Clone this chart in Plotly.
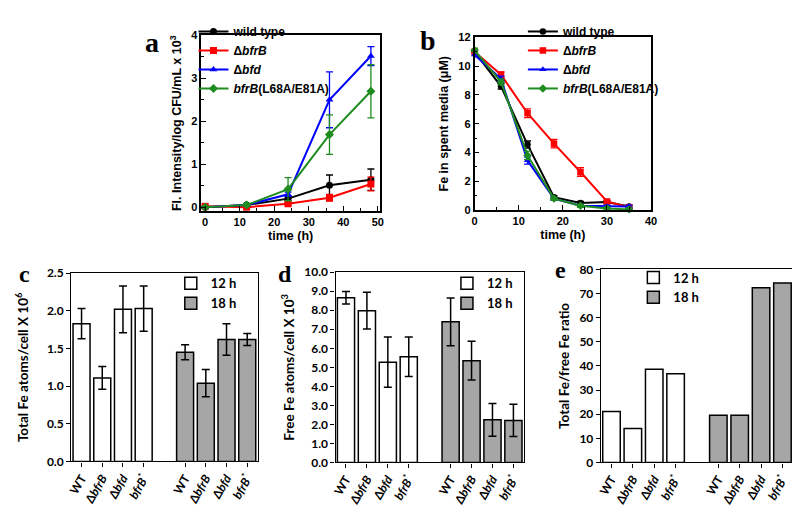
import plotly.graph_objects as go

# ---------------- data ----------------
# Panel a: Fl. intensity vs time
time_a = [0, 12, 24, 36, 48]
a_wt = [0.0, 0.05, 0.20, 0.51, 0.64]
a_wt_err = [0.02, 0.02, 0.05, 0.24, 0.25]
a_dbfrb = [0.02, 0.0, 0.08, 0.22, 0.54]
a_dbfrb_err = [0.02, 0.02, 0.03, 0.08, 0.16]
a_dbfd = [0.0, 0.05, 0.30, 2.50, 3.52]
a_dbfd_err = [0.02, 0.02, 0.05, 0.65, 0.22]
a_mut = [0.0, 0.05, 0.42, 1.69, 2.70]
a_mut_err = [0.02, 0.02, 0.27, 0.46, 0.62]
a_xticks = [0, 10, 20, 30, 40, 50]
a_yticks = [0, 1, 2, 3, 4]

# Panel b: Fe in spent media
time_b = [0, 6, 12, 18, 24, 30, 35]
b_wt = [11.0, 8.6, 4.55, 0.90, 0.50, 0.56, 0.25]
b_wt_err = [0.15, 0.2, 0.25, 0.1, 0.1, 0.1, 0.1]
b_dbfrb = [11.0, 9.4, 6.73, 4.62, 2.65, 0.60, 0.20]
b_dbfrb_err = [0.15, 0.2, 0.3, 0.3, 0.3, 0.1, 0.1]
b_dbfd = [10.8, 9.1, 3.45, 0.80, 0.30, 0.25, 0.25]
b_dbfd_err = [0.15, 0.2, 0.25, 0.1, 0.1, 0.1, 0.1]
b_mut = [11.1, 8.9, 3.80, 0.80, 0.30, 0.12, 0.05]
b_mut_err = [0.15, 0.2, 0.3, 0.1, 0.1, 0.1, 0.1]
b_xticks = [0, 10, 20, 30, 40]
b_yticks = [0, 2, 4, 6, 8, 10, 12]

# Bar panels
strains = ["WT", "Δ<i>bfrB</i>", "Δ<i>bfd</i>", "<i>bfrB</i><sup>*</sup>"]
pos_12h = [0, 1, 2, 3]
pos_18h = [5, 6, 7, 8]

c_12h = [1.83, 1.11, 2.02, 2.03]
c_12h_err = [0.20, 0.15, 0.31, 0.30]
c_18h = [1.45, 1.04, 1.62, 1.62]
c_18h_err = [0.10, 0.18, 0.21, 0.08]
c_yticks = [0.0, 0.5, 1.0, 1.5, 2.0, 2.5]

d_12h = [8.66, 7.98, 5.27, 5.56]
d_12h_err = [0.33, 0.97, 1.32, 1.04]
d_18h = [7.39, 5.35, 2.24, 2.21]
d_18h_err = [1.26, 1.02, 0.86, 0.85]
d_yticks = [0, 1, 2, 3, 4, 5, 6, 7, 8, 9, 10]

e_12h = [21.1, 14.1, 38.6, 36.7]
e_18h = [19.6, 19.6, 72.4, 74.3]
e_yticks = [0, 10, 20, 30, 40, 50, 60, 70, 80]

# ---------------- styles ----------------
ARIAL = "Liberation Sans"
CAL = "Lato"
line_series = [
    ("<b>wild type</b>", "black", "circle"),
    ("<b>Δ<i>bfrB</i></b>", "#ff0000", "square"),
    ("<b>Δ<i>bfd</i></b>", "#0000ff", "triangle-up"),
    ("<b><i>bfrB</i>(L68A/E81A)</b>", "#1e8c1e", "diamond"),
]
W, H = 800, 509


def px_x(p):
    return p / W


def px_y(p):
    return 1 - p / H


def bold(vals, fmt):
    return ["<b>" + format(v, fmt) + "</b>" for v in vals]


fig = go.Figure()

a_data = [(a_wt, a_wt_err), (a_dbfrb, a_dbfrb_err), (a_dbfd, a_dbfd_err), (a_mut, a_mut_err)]
for (name, col, sym), (vals, err) in zip(line_series, a_data):
    fig.add_trace(go.Scatter(
        x=time_a, y=vals, name=name, mode="lines+markers",
        line=dict(color=col, width=2), marker=dict(color=col, symbol=sym, size=7),
        error_y=dict(type="data", array=err, color=col, thickness=1.3, width=3.5),
        xaxis="x", yaxis="y", legend="legend", cliponaxis=False))

b_data = [(b_wt, b_wt_err), (b_dbfrb, b_dbfrb_err), (b_dbfd, b_dbfd_err), (b_mut, b_mut_err)]
for (name, col, sym), (vals, err) in zip(line_series, b_data):
    fig.add_trace(go.Scatter(
        x=time_b, y=vals, name=name, mode="lines+markers",
        line=dict(color=col, width=2), marker=dict(color=col, symbol=sym, size=6.5),
        error_y=dict(type="data", array=err, color=col, thickness=1.3, width=3.5),
        xaxis="x2", yaxis="y2", legend="legend2", cliponaxis=False))

GRAY = "#a6a6a6"
bar_panels = [
    ("x3", "y3", "legend3", c_12h, c_12h_err, c_18h, c_18h_err),
    ("x4", "y4", "legend4", d_12h, d_12h_err, d_18h, d_18h_err),
    ("x5", "y5", "legend5", e_12h, None, e_18h, None),
]
for xa, ya, lg, v12, e12, v18, e18 in bar_panels:
    for label, pos, vals, err, col in [("<b>12 h</b>", pos_12h, v12, e12, "white"),
                                        ("<b>18 h</b>", pos_18h, v18, e18, GRAY)]:
        kw = {}
        if err is not None:
            kw["error_y"] = dict(type="data", array=err, color="black", thickness=1.5, width=4)
        fig.add_trace(go.Bar(
            x=pos, y=vals, name=label, width=0.82,
            marker=dict(color=col, line=dict(color="black", width=1.5)),
            xaxis=xa, yaxis=ya, legend=lg, **kw))

# ---------------- layout ----------------
tickfont_a = dict(family=ARIAL, size=11, color="black")
titlefont_a = dict(family=ARIAL, size=12.5, color="black")
tickfont_c = dict(family=CAL, size=12, color="black")
titlefont_c = dict(family=CAL, size=13.5, color="black")


def line_axis(domain, anchor, rng, tv, minor_dtick, title, standoff=4):
    return dict(domain=domain, anchor=anchor, range=rng, tickvals=tv, ticktext=bold(tv, "d"),
                showgrid=False, zeroline=False, showline=True, linecolor="black",
                linewidth=1.5, mirror=True, ticks="inside", ticklen=5, tickwidth=1.2,
                tickcolor="black", minor=dict(ticks="inside", dtick=minor_dtick, tick0=0,
                                             ticklen=3, tickcolor="black", showgrid=False),
                tickfont=tickfont_a,
                title=dict(text="<b>" + title + "</b>", font=titlefont_a, standoff=standoff))


def bar_xaxis(domain, anchor):
    return dict(domain=domain, anchor=anchor, range=[-0.5, 8.5],
                tickvals=pos_12h + pos_18h,
                ticktext=["<b>" + s + "</b>" for s in strains + strains], tickangle=-60,
                showgrid=False, zeroline=False, showline=True, linecolor="black",
                linewidth=1.2, mirror=True, ticks="outside", ticklen=4, tickcolor="black",
                tickfont=tickfont_c)


def bar_yaxis(domain, anchor, rng, tv, fmt, title, standoff=6):
    return dict(domain=domain, anchor=anchor, range=rng, tickvals=tv, ticktext=bold(tv, fmt),
                showgrid=False, zeroline=False, showline=True, linecolor="black",
                linewidth=1.2, mirror=True, ticks="outside", ticklen=4, tickcolor="black",
                tickfont=tickfont_c,
                title=dict(text="<b>" + title + "</b>", font=titlefont_c, standoff=standoff))


def legend_box(x, y, size, family):
    return dict(x=px_x(x), y=px_y(y), xanchor="left", yanchor="top", bgcolor="rgba(0,0,0,0)",
                font=dict(family=family, size=size, color="black"), tracegroupgap=0,
                itemclick=False)


fig.update_layout(
    width=W, height=H, margin=dict(l=0, r=0, t=0, b=0),
    paper_bgcolor="white", plot_bgcolor="white", barmode="overlay",
    xaxis=line_axis([px_x(191), px_x(372)], "y", [-1.1, 50.6], a_xticks, 5, "time (h)"),
    yaxis=line_axis([px_y(201), px_y(20)], "x", [-0.09, 4], a_yticks, 0.5,
                    "Fl. Intensity/log CFU/mL x 10<sup>3</sup>", standoff=7),
    xaxis2=line_axis([px_x(468), px_x(647)], "y2", [0, 40], b_xticks, 5, "time (h)"),
    yaxis2=line_axis([px_y(200), px_y(22)], "x2", [0, 12], b_yticks, 1,
                     "Fe in spent media (μM)", standoff=7),
    xaxis3=bar_xaxis([px_x(59), px_x(248)], "y3"),
    yaxis3=bar_yaxis([px_y(459), px_y(265)], "x3", [0, 2.5], c_yticks, ".1f",
                     "Total Fe atoms/cell X 10<sup>6</sup>", standoff=15),
    xaxis4=bar_xaxis([px_x(327), px_x(518)], "y4"),
    yaxis4=bar_yaxis([px_y(460), px_y(264)], "x4", [0, 10], d_yticks, ".1f",
                     "Free Fe atoms/cell X 10<sup>3</sup>"),
    xaxis5=bar_xaxis([px_x(596), px_x(791)], "y5"),
    yaxis5=bar_yaxis([px_y(460), px_y(261)], "x5", [0, 80], e_yticks, "d",
                     "Total Fe/free Fe ratio"),
    legend=legend_box(183, 1, 12, ARIAL),
    legend2=legend_box(517, 1, 12, ARIAL),
    legend3=legend_box(160, 260, 13, CAL),
    legend4=legend_box(440, 260, 13, CAL),
    legend5=legend_box(629, 254, 13, CAL),
)

letters = [("a", 141, 27, 28), ("b", 421, 25, 28), ("c", 12, 266, 24),
           ("d", 276, 266, 24), ("e", 555, 262, 24)]
for txt, x, y, s in letters:
    fig.add_annotation(text="<b>%s</b>" % txt, x=px_x(x), y=px_y(y), xref="paper", yref="paper",
                       showarrow=False, xanchor="center", yanchor="middle",
                       font=dict(family="Liberation Serif", size=s, color="black"))

fig.write_html("out.html")
